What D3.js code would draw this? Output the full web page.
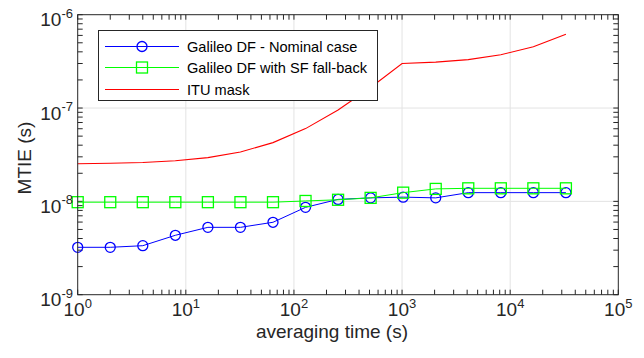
<!DOCTYPE html>
<html>
<head>
<meta charset="utf-8">
<script src="https://cdn.jsdelivr.net/npm/d3@7"></script>
<style>
  html, body { margin: 0; padding: 0; background: #fff; }
  svg { display: block; font-family: "Liberation Sans", Arial, sans-serif; }
</style>
</head>
<body>
<svg id="chart" width="644" height="358"></svg>
<script>
// Averaging intervals (s)
const tau = [1, 2, 4, 8, 16, 32, 64, 128, 256, 512, 1024, 2048, 4096, 8192, 16384, 32768];
// MTIE (s), Galileo DF nominal case
const nominal = [3.22e-9, 3.22e-9, 3.35e-9, 4.33e-9, 5.27e-9, 5.27e-9, 5.97e-9, 8.63e-9,
                 1.05e-8, 1.09e-8, 1.11e-8, 1.09e-8, 1.24e-8, 1.24e-8, 1.24e-8, 1.24e-8];
// MTIE (s), Galileo DF with SF fall-back
const fallback = [9.8e-9, 9.8e-9, 9.8e-9, 9.8e-9, 9.8e-9, 9.8e-9, 9.8e-9, 1.01e-8,
                  1.04e-8, 1.09e-8, 1.24e-8, 1.36e-8, 1.38e-8, 1.38e-8, 1.38e-8, 1.38e-8];
// ITU mask breakpoints
const maskTau = [1, 2, 4, 8, 16, 32, 64, 128, 256, 512, 1000, 2048, 4096, 8192, 16384, 32768];
const maskVal = [2.53e-8, 2.56e-8, 2.61e-8, 2.72e-8, 2.94e-8, 3.38e-8, 4.26e-8, 6.02e-8,
                 9.54e-8, 1.66e-7, 3.0e-7, 3.1e-7, 3.3e-7, 3.72e-7, 4.54e-7, 6.18e-7];
// Axis decades
const xDecades = [0, 1, 2, 3, 4, 5];
const yDecades = [-9, -8, -7, -6];
const seriesNames = ["Galileo DF - Nominal case", "Galileo DF with SF fall-back", "ITU mask"];

const svg = d3.select("#chart");
const L = 77.7, R = 618.3, T = 14.7, B = 294.7;
const x = d3.scaleLog().domain([1, 1e5]).range([L, R]);
const y = d3.scaleLog().domain([1e-9, 1e-6]).range([B, T]);
const axisColor = "#262626";

// grid at the decades
const g = svg.append("g");
g.selectAll(".gx").data(xDecades.slice(1, -1)).join("line")
  .attr("x1", d => x(Math.pow(10, d))).attr("x2", d => x(Math.pow(10, d)))
  .attr("y1", T).attr("y2", B).attr("stroke", "#e3e3e3").attr("stroke-width", 1);
g.selectAll(".gy").data(yDecades.slice(1, -1)).join("line")
  .attr("y1", d => y(Math.pow(10, d))).attr("y2", d => y(Math.pow(10, d)))
  .attr("x1", L).attr("x2", R).attr("stroke", "#e3e3e3").attr("stroke-width", 1);

// inward ticks on all four sides (log minor ticks included)
const xTicks = x.ticks();
const yTicks = y.ticks();
const tk = 5;
const ticks = svg.append("g").attr("stroke", axisColor).attr("stroke-width", 1);
xTicks.forEach(v => {
  const px = x(v);
  ticks.append("line").attr("x1", px).attr("x2", px).attr("y1", B).attr("y2", B - tk);
  ticks.append("line").attr("x1", px).attr("x2", px).attr("y1", T).attr("y2", T + tk);
});
yTicks.forEach(v => {
  const py = y(v);
  ticks.append("line").attr("y1", py).attr("y2", py).attr("x1", L).attr("x2", L + tk);
  ticks.append("line").attr("y1", py).attr("y2", py).attr("x1", R).attr("x2", R - tk);
});

// series lines
const line = d3.line().x(d => x(d[0])).y(d => y(d[1]));
const nomPts = tau.map((t, i) => [t, nominal[i]]);
const fbPts = tau.map((t, i) => [t, fallback[i]]);
const maskPts = maskTau.map((t, i) => [t, maskVal[i]]);

svg.append("path").datum(nomPts).attr("d", line)
  .attr("fill", "none").attr("stroke", "#0000ff").attr("stroke-width", 1);
svg.selectAll(".nom").data(nomPts).join("circle")
  .attr("cx", d => x(d[0])).attr("cy", d => y(d[1])).attr("r", 5)
  .attr("fill", "none").attr("stroke", "#0000ff").attr("stroke-width", 1.3);

svg.append("path").datum(fbPts).attr("d", line)
  .attr("fill", "none").attr("stroke", "#00ff00").attr("stroke-width", 1);
svg.selectAll(".fb").data(fbPts).join("rect")
  .attr("x", d => x(d[0]) - 5.5).attr("y", d => y(d[1]) - 5.5)
  .attr("width", 11).attr("height", 11)
  .attr("fill", "none").attr("stroke", "#00ff00").attr("stroke-width", 1.3);

svg.append("path").datum(maskPts).attr("d", line)
  .attr("fill", "none").attr("stroke", "#ff0000").attr("stroke-width", 1.1);

// axes box
svg.append("rect").attr("x", L).attr("y", T).attr("width", R - L).attr("height", B - T)
  .attr("fill", "none").attr("stroke", axisColor).attr("stroke-width", 1);

// tick labels
const lab = svg.append("g").attr("fill", axisColor);
xDecades.forEach(d => {
  const t = lab.append("text").attr("x", x(Math.pow(10, d))).attr("y", 316)
    .attr("text-anchor", "middle").attr("font-size", 19);
  t.append("tspan").text("10");
  t.append("tspan").attr("dy", -8.5).attr("font-size", 13).text(d);
});
yDecades.forEach(d => {
  const t = lab.append("text").attr("x", 73).attr("y", y(Math.pow(10, d)) + 11.5)
    .attr("text-anchor", "end").attr("font-size", 19);
  t.append("tspan").text("10");
  t.append("tspan").attr("dy", -8.5).attr("font-size", 13).text(d);
});

// axis titles
svg.append("text").attr("x", 332).attr("y", 338).attr("text-anchor", "middle")
  .attr("font-size", 19).attr("fill", axisColor).text("averaging time (s)");
svg.append("text").attr("transform", `translate(31,158) rotate(-90)`)
  .attr("text-anchor", "middle").attr("font-size", 19).attr("fill", axisColor).text("MTIE (s)");

// legend
const lg = svg.append("g");
lg.append("rect").attr("x", 98.5).attr("y", 30.5).attr("width", 279).attr("height", 70)
  .attr("fill", "#fff").attr("stroke", axisColor).attr("stroke-width", 1);
const rowsY = [46.5, 67.5, 89.5];
const colors = ["#0000ff", "#00ff00", "#ff0000"];
seriesNames.forEach((name, i) => {
  lg.append("line").attr("x1", 105).attr("x2", 179).attr("y1", rowsY[i]).attr("y2", rowsY[i])
    .attr("stroke", colors[i]).attr("stroke-width", 1);
  lg.append("text").attr("x", 187).attr("y", rowsY[i]).attr("dy", "0.35em")
    .attr("font-size", 14.6).attr("fill", "#000").text(name);
});
lg.append("circle").attr("cx", 142).attr("cy", rowsY[0]).attr("r", 5)
  .attr("fill", "none").attr("stroke", colors[0]).attr("stroke-width", 1.3);
lg.append("rect").attr("x", 142 - 5.5).attr("y", rowsY[1] - 5.5).attr("width", 11).attr("height", 11)
  .attr("fill", "none").attr("stroke", colors[1]).attr("stroke-width", 1.3);
</script>
</body>
</html>
